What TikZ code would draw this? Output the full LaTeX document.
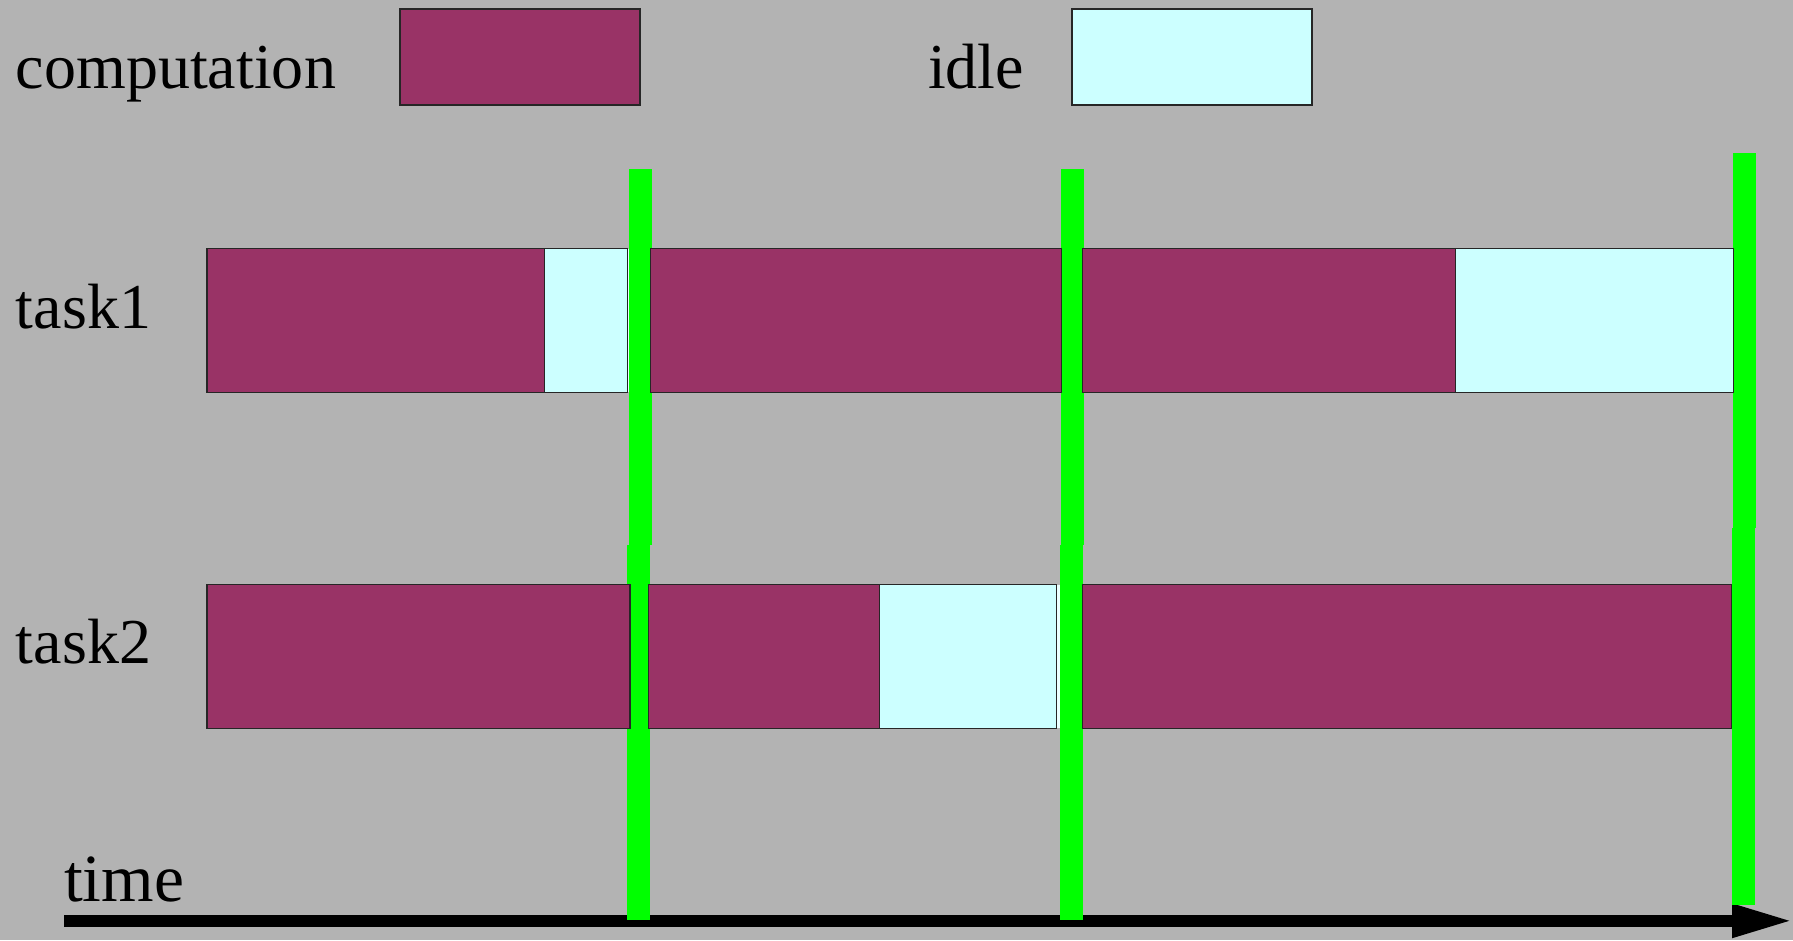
\documentclass[tikz,border=0pt]{standalone}
\usepackage{fontspec}
\setmainfont{Liberation Serif}
\usetikzlibrary{arrows.meta}
\definecolor{bg}{HTML}{B3B3B3}
\definecolor{compc}{HTML}{993366}
\definecolor{idlec}{HTML}{CCFFFF}
\definecolor{syncc}{HTML}{00FF00}
\tikzset{
 boxbase/.style={draw=black!85, line width=1.2pt, inner sep=0pt, outer sep=0pt, anchor=north west},
 compbox/.style={boxbase, fill=compc},
 idlebox/.style={boxbase, fill=idlec},
 stripbox/.style={boxbase, draw=none, fill=idlec!40!white},
 syncbar/.style={boxbase, draw=none, fill=syncc},
 lbl/.style={anchor=base west, inner sep=0pt, outer sep=0pt, font=\fontsize{64}{70}\selectfont},
}
\newcommand\mybox[6]{\node[#1,minimum width={#5pt-#3pt},minimum height={#6pt-#4pt}] (#2) at (#3,#4) {};}
\begin{document}
\begin{tikzpicture}[x=1pt,y=-1pt]
\fill[bg] (0,0) rectangle (1793,940);
\useasboundingbox (0,0) rectangle (1793,940);
% legend
\node[lbl] (lc) at (16,88) {computation};
\mybox{compbox}{lcb}{400}{9}{640}{105}
\node[lbl] (li) at (928,88) {idle};
\mybox{idlebox}{lib}{1072}{9}{1312}{105}
% row labels
\node[lbl] (t1) at (16,328) {task1};
\node[lbl] (t2) at (16,663) {task2};
% time axis
\node[lbl, font=\fontsize{67.5}{72}\selectfont] (tm) at (64,901.5) {time};
\coordinate (ts) at (64,920.8);
\coordinate (te) at (1793,920.8);
\draw[line width=11.7pt, -{Triangle[length=61pt,width=31pt]}] (ts) -- (te);
% synchronisation bars
\mybox{syncbar}{s1u}{629}{169}{651.7}{545}
\mybox{syncbar}{s1l}{627.3}{545}{650}{920}
\mybox{syncbar}{s2u}{1061}{169}{1083.7}{545}
\mybox{syncbar}{s2l}{1060}{545}{1082.7}{920}
\mybox{syncbar}{s3u}{1733.3}{153}{1756}{528}
\mybox{syncbar}{s3l}{1732}{528}{1755}{905}
% task1
\mybox{compbox}{t1a}{207}{248.5}{544.3}{392.5}
\mybox{idlebox}{t1b}{544.3}{248.5}{627.3}{392.5}
\mybox{stripbox}{t1s}{627.9}{249}{629.3}{392}
\mybox{compbox}{t1c}{650.7}{248.5}{1061.7}{392.5}
\mybox{compbox}{t1d}{1082.3}{248.5}{1455.7}{392.5}
\mybox{idlebox}{t1e}{1455.7}{248.5}{1733.3}{392.5}
% task2
\mybox{compbox}{t2a}{207}{584.5}{630}{728.5}
\mybox{compbox}{t2b}{648.3}{584.5}{879.4}{728.5}
\mybox{idlebox}{t2c}{879.4}{584.5}{1056.7}{728.5}
\mybox{stripbox}{t2s}{1057.3}{585}{1060}{728}
\mybox{compbox}{t2d}{1082.7}{584.5}{1731.7}{728.5}
\end{tikzpicture}
\end{document}
